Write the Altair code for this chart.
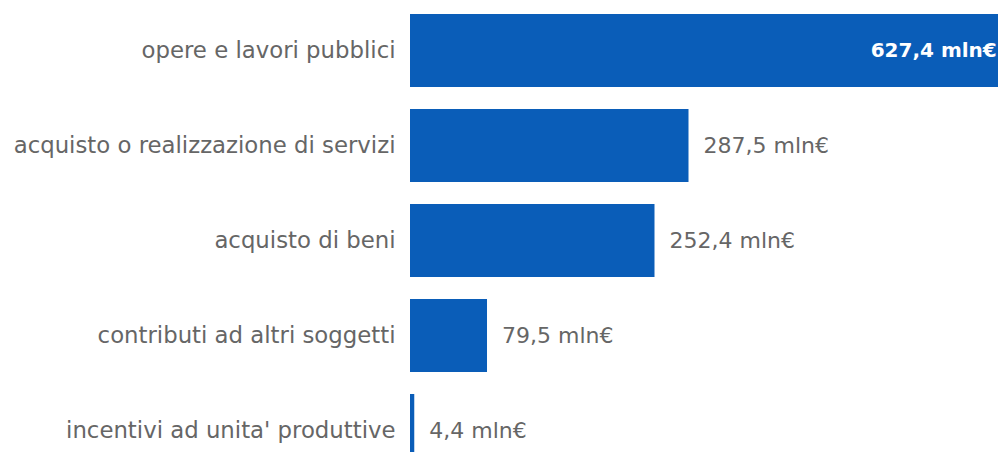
import altair as alt
import pandas as pd

categories = [
    "opere e lavori pubblici",
    "acquisto o realizzazione di servizi",
    "acquisto di beni",
    "contributi ad altri soggetti",
    "incentivi ad unita' produttive",
]
values = [627.4, 287.5, 252.4, 79.5, 4.4]
unit = "mln€"

df = pd.DataFrame({"cat": categories, "val": values})
df["label"] = [f"{v:.1f}".replace(".", ",") + " " + unit for v in values]
df["inside"] = [v == max(values) for v in values]

FONT = "DejaVu Sans"
GREY = "#666666"
BLUE = "#0A5DB8"

y = alt.Y(
    "cat:N",
    sort=categories,
    title=None,
    scale=alt.Scale(range=[6, 459], paddingInner=22 / 95, paddingOuter=0),
    axis=alt.Axis(
        domain=False, ticks=False, grid=False, labelPadding=15,
        labelFontSize=22.8, labelColor=GREY, labelFont=FONT, labelLimit=420,
    ),
)
x = alt.X("val:Q", scale=alt.Scale(domain=[0, 607]), axis=None)

base = alt.Chart(df)
bars = base.mark_bar(color=BLUE, clip=True).encode(x=x, y=y)
txt_out = base.transform_filter("!datum.inside").mark_text(
    align="left", baseline="middle", dx=15, fontSize=22, font=FONT, color=GREY
).encode(x=x, y=y, text="label:N")
txt_in = base.transform_filter("datum.inside").mark_text(
    align="right", baseline="middle", dx=-21, fontSize=20, font=FONT,
    fontWeight="bold", color="white"
).encode(x=x, y=y, text="label:N")

chart = alt.layer(bars, txt_out, txt_in).properties(
    width=588,
    height=444,
    padding={"left": 402, "top": 0, "right": 0, "bottom": 0},
    autosize=alt.AutoSizeParams(type="none"),
).configure_view(stroke=None)

chart.save("out.html", embed_options={"renderer": "svg", "actions": False})
